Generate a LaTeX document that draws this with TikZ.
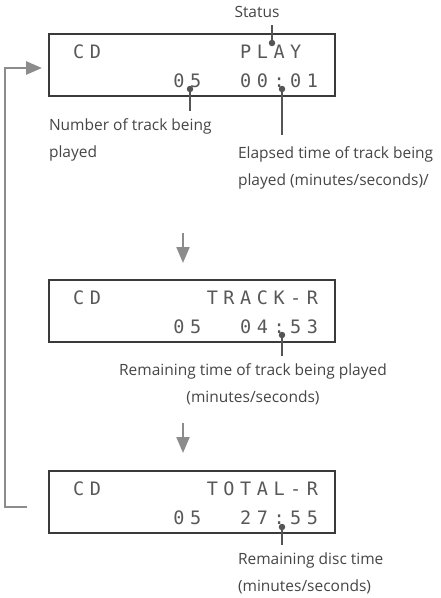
\documentclass[tikz,border=0pt]{standalone}
\usepackage{fontspec}
\setmainfont{Open Sans}
\newfontfamily\lcdfont[LetterSpace=30]{DejaVu Sans Mono}
\usetikzlibrary{arrows.meta}

\definecolor{framegray}{HTML}{3A3A3A}
\definecolor{lcdgray}{HTML}{585858}
\definecolor{leadgray}{HTML}{555555}
\definecolor{flowgray}{HTML}{8C8C8C}
\definecolor{labelgray}{HTML}{454545}

\tikzset{
  lcdbox/.style={draw=framegray, line width=1.2pt, minimum width=286pt, minimum height=62pt, inner sep=0pt},
  lcdtext/.style={anchor=base west, inner sep=0pt, text=lcdgray, font=\lcdfont\fontsize{18.5}{18.5}\selectfont},
  leader/.style={draw=leadgray, line width=2pt, shorten >=5pt},
  tipdot/.style={fill=leadgray, circle, inner sep=0pt, minimum size=6.5pt},
  flow/.style={draw=flowgray, line width=2.2pt, -{Triangle[length=16pt,width=13pt]}},
  caption/.style={text=labelgray, font=\fontsize{15.5}{27}\selectfont, inner sep=0pt, outer sep=3pt},
}

\begin{document}
\begin{tikzpicture}[x=1pt, y=-1pt]
    \useasboundingbox (0,0) rectangle (440,598);

    % displays
    \node[lcdbox] (play) at (192,65) {};
    \node[lcdbox] (track) at (192,311) {};
    \node[lcdbox] (total) at (192,502) {};

    \node[lcdtext] (playcd) at (73,58) {CD};
    \node[lcdtext] (playstat) at (240,58) {PLAY};
    \node[lcdtext] (playno) at (173.2,87) {05};
    \node[lcdtext] (playtime) at (240,87) {00:01};

    \node[lcdtext] (trackcd) at (73,304) {CD};
    \node[lcdtext] (trackstat) at (206.6,304) {TRACK-R};
    \node[lcdtext] (trackno) at (173.2,333) {05};
    \node[lcdtext] (tracktime) at (240,333) {04:53};

    \node[lcdtext] (totalcd) at (73,495) {CD};
    \node[lcdtext] (totalstat) at (206.6,495) {TOTAL-R};
    \node[lcdtext] (totalno) at (173.2,524) {05};
    \node[lcdtext] (totaltime) at (240,524) {27:55};

    % captions
    \node[caption, anchor=base] (status) at (257,17) {Status};
    \node[caption, anchor=north west, align=left] (number) at (46,116) {Number of track being\\played};
    \node[caption, anchor=north west, align=left] (elapsed) at (235,144) {Elapsed time of track being\\played (minutes/seconds)/};
    \node[caption, anchor=north, align=center] (remain) at (253,361) {Remaining time of track being played\\(minutes/seconds)};
    \node[caption, anchor=north west, align=left] (disc) at (235,550) {Remaining disc time\\(minutes/seconds)};

    % leaders
    \node[tipdot] (statusdot) at (272,43) {};
    \node[tipdot] (numberdot) at (190,89) {};
    \node[tipdot] (elapseddot) at (282,89) {};
    \node[tipdot] (remaindot) at (282,335) {};
    \node[tipdot] (discdot) at (282,527) {};
    \draw[leader] (statusdot.center) -- (statusdot |- status.south);
    \draw[leader] (numberdot.center) -- (numberdot |- number.north);
    \draw[leader, shorten >=9pt] (elapseddot.center) -- (elapseddot |- elapsed.north);
    \draw[leader] (remaindot.center) -- (remaindot |- remain.north);
    \draw[leader] (discdot.center) -- (discdot |- disc.north);

    % flow arrows
    \coordinate (firstfrom) at (183,233);
    \coordinate (firstto) at (183,263);
    \coordinate (secondfrom) at (183,423);
    \coordinate (secondto) at (183,453);
    \coordinate (loopfrom) at (27,507);
    \coordinate (loopto) at (42,68);
    \draw[flow] (firstfrom) -- (firstto);
    \draw[flow] (secondfrom) -- (secondto);
    \draw[flow, line width=2.8pt] (loopfrom) -- ++(-22,0) |- (loopto);
\end{tikzpicture}
\end{document}
